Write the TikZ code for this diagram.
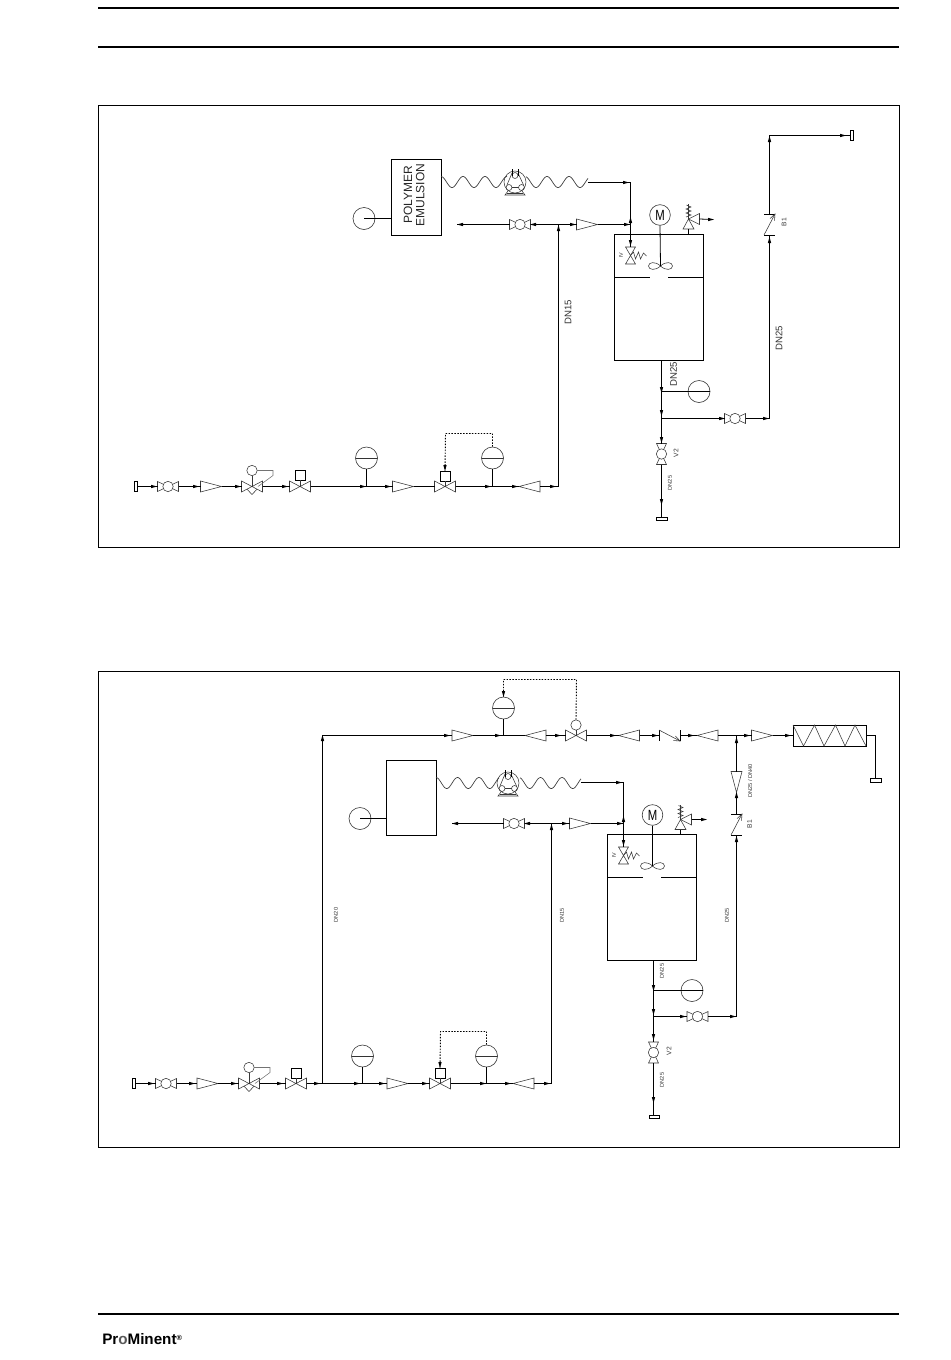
\documentclass[tikz,border=0pt]{standalone}
\usepackage{fontspec}
\usepackage{graphicx}
\setmainfont{Liberation Sans}
\usetikzlibrary{calc}
\definecolor{symc}{gray}{0.22}
\definecolor{txtc}{gray}{0.2}
\tikzset{
  x=0.75pt,y=-0.75pt,
  pipe/.style={line width=0.72pt,draw=black},
  sym/.style={line width=0.42pt,draw=symc},
  dotl/.style={line width=0.7pt,draw=black,dash pattern=on 1.1pt off 1.1pt},
  gauge/.style={circle,draw=black!80,line width=0.45pt,fill=white,inner sep=0,minimum size=16.5pt,
    path picture={\draw[line width=0.65pt] (path picture bounding box.west) -- (path picture bounding box.east);}},
  gaugeplain/.style={circle,draw=black!80,line width=0.45pt,inner sep=0,minimum size=16.5pt},
  motor/.style={circle,draw=black!80,line width=0.45pt,fill=white,inner sep=0,minimum size=15.5pt,font=\fontsize{8.5pt}{9pt}\selectfont},
  actbox/.style={rectangle,draw=black,line width=0.55pt,fill=white,inner sep=0,minimum size=7.6pt},
  vessel/.style={rectangle,draw=black,line width=0.65pt,inner sep=0},
  lbl/.style={rotate=90,text=txtc,inner sep=0},
  tipm/.pic={\fill[black] (-3,-1.7)--(3,0)--(-3,1.7)--cycle;},
  ballv/.pic={
    \draw[sym] (-10.5,-5)--(-10.5,5)--(10.5,-5)--(10.5,5)--cycle;
    \draw[sym,fill=white] (0,0) circle (5.2);
    \coordinate (-l) at (-10.5,0); \coordinate (-r) at (10.5,0);},
  gatev/.pic={
    \draw[sym] (-10.5,-5.5)--(-10.5,5.5)--(10.5,-5.5)--(10.5,5.5)--cycle;
    \coordinate (-l) at (-10.5,0); \coordinate (-r) at (10.5,0);},
  redu/.pic={
    \draw[sym,fill=white] (-10.5,-5.5)--(-10.5,5.5)--(10.5,0)--cycle;
    \coordinate (-l) at (-10.5,0); \coordinate (-r) at (10.5,0);},
  threeway/.pic={
    \draw[sym] (-10.5,-5.5)--(-10.5,5.5)--(10.5,-5.5)--(10.5,5.5)--cycle;
    \draw[sym] (-5,2.7)--(0,8)--(5,2.7);
    \draw[sym] (0,0)--(0,-11);
    \draw[sym] (0,-16) circle (5.2);
    \draw[sym,draw=black!55] (5.2,-16)--(21,-16)--(21,-11)--(6,0);
    \coordinate (-l) at (-10.5,0); \coordinate (-r) at (10.5,0);},
  checkv/.pic={
    \draw[line width=0.6pt] (-10.5,-5.5)--(-10.5,5.5) (10.5,-5.5)--(10.5,5.5);
    \draw[sym] (-10.5,-5.5)--(10.5,5.5);
    \draw[sym] (6,0.6)--(10.5,5.5)--(4,5);
    \coordinate (-l) at (-10.5,0); \coordinate (-r) at (10.5,0);},
  pump/.pic={
    \draw[sym] (0,0) circle (11);
    \draw[sym] (-6,5.5) circle (3) (6.5,5.5) circle (3) (0,-6.5) circle (3);
    \draw[sym] (-3,-9)--(-8,3) (3,-9)--(8.5,3) (-3,5.5)--(3.5,5.5);
    \draw[line width=0.55pt] (-3,-13)--(-3,-6.5) (3,-13)--(3,-6.5);
    \draw[sym] (-7,9)--(-10,13)--(10,13)--(7,9);
    \draw[sym] (-8,11)--(8,11);},
  ivv/.pic={
    \draw[sym] (-5,-8.5)--(5,-8.5)--(-5,8.5)--(5,8.5)--cycle;
    \draw[sym] (0,0)--(3,-3.5)--(5,3.5)--(8,-3.5)--(10,3.5)--(13,-2.5)--(16,0.5);
    \coordinate (-t) at (0,-8.5);},
  relief/.pic={
    \draw[sym] (0,0)--(-5.5,10)--(5.5,10)--cycle;
    \draw[sym] (0,0)--(11,-5.5)--(11,5.5)--cycle;
    \draw[sym] (0,0)--(0,-15);
    \draw[sym] (-2.5,-2)--(2.5,-4)--(-2.5,-6)--(2.5,-8)--(-2.5,-10)--(2.5,-12)--(-2,-14);
    \coordinate (-b) at (0,10); \coordinate (-o) at (11,0);},
  stir/.pic={
    \draw[sym] (0,0) .. controls (-5,-5) and (-12,-4) .. (-12,0) .. controls (-12,4) and (-5,5) .. (0,0)
      .. controls (5,-5) and (12,-4) .. (12,0) .. controls (12,4) and (5,5) .. (0,0);},
  capm/.pic={\draw[line width=0.6pt,fill=white] (-1.5,-5.2) rectangle (1.5,5.2);},
}
\newcommand{\tipat}[3]{\pic[rotate=#3] at (#1,#2) {tipm};}
\begin{document}
\begin{tikzpicture}
\useasboundingbox (0,0) rectangle (950,1360);
% page rules
\draw[line width=1.5pt] (98,8)--(899,8);
\draw[line width=1.5pt] (98,46.5)--(899,46.5);
\draw[line width=1.5pt] (98,1313.5)--(899,1313.5);
\node[anchor=west,inner sep=0,font=\fontsize{11.4pt}{12pt}\selectfont\bfseries] (logo) at (102,1339.5) {Pr\textcolor{black!65}{o}Minent\raisebox{3.4pt}{\fontsize{5.5pt}{6pt}\selectfont ®}};
% frames
\node[rectangle,draw=black,line width=0.7pt,minimum width=600.75pt,minimum height=331.5pt,inner sep=0] (frameA) at (498.5,326) {};
\node[rectangle,draw=black,line width=0.7pt,minimum width=600.75pt,minimum height=357pt,inner sep=0] (frameB) at (498.5,909) {};

% ================= DIAGRAM A =================
\pic (aCap) at (135.5,486.5) {capm};
\pic (aBall) at (168,486.5) {ballv};
\pic (aR1) at (211,486.5) {redu};
\pic (aTw) at (252,486.5) {threeway};
\pic (aV1) at (300,486.5) {gatev};
\node[actbox] (aBx1) at (300,475) {};
\draw[sym] (aBx1.south)--(300,486.5);
\node[gauge] (aG1) at (366.5,458) {};
\coordinate (aJ1) at (366.5,486.5);
\pic (aR2) at (403,486.5) {redu};
\pic (aV2) at (445,486.5) {gatev};
\node[actbox] (aBx2) at (445,476) {};
\draw[sym] (aBx2.south)--(445,486.5);
\node[gauge] (aG2) at (492.5,458) {};
\coordinate (aJ2) at (492.5,486.5);
\pic[rotate=180] (aR3) at (529.5,486.5) {redu};
\coordinate (aC1) at (558.5,486.5);
\coordinate (aJ3) at (558.5,224.5);
\draw[pipe] (137,486.5)--(aBall-l) (aBall-r)--(aR1-l) (aR1-r)--(aTw-l) (aTw-r)--(aV1-l) (aV1-r)--(aJ1)--(aR2-l) (aR2-r)--(aV2-l) (aV2-r)--(aJ2)--(aR3-r) (aR3-l)--(aC1)--(aJ3);
\draw[pipe] (aG1.south)--(aJ1) (aG2.south)--(aJ2);
\draw[dotl] (aG2.north)--(492.5,433.5)--(445.5,433.5)--(aBx2.north);
\tipat{154}{486.5}{0}\tipat{196}{486.5}{0}\tipat{238}{486.5}{0}\tipat{285}{486.5}{0}\tipat{363}{486.5}{0}\tipat{388}{486.5}{0}\tipat{488}{486.5}{0}\tipat{515}{486.5}{0}\tipat{553}{486.5}{0}
\tipat{445}{468}{270}
% top line A
\node[vessel,minimum width=37.5pt,minimum height=57pt] (aBox) at (416,197) {};
\node[rotate=90,align=center,font=\fontsize{9pt}{9.2pt}\selectfont,text=black!85,inner sep=0] (aBoxT) at (414,195) {POLYMER\\EMULSION};
\node[gaugeplain] (aG3) at (364,218.5) {};
\draw[pipe] (aG3.center)--(aBox.west|-aG3);
\draw[line width=0.5pt,draw=symc] plot[domain=0:66,samples=90] ({441+\x},{182-5.5*cos(\x/22*360)});
\draw[line width=0.5pt,draw=symc] plot[domain=0:62,samples=90] ({526+\x},{182-5.5*cos((\x+1)/22*360)});
\pic (aPump) at (515,182) {pump};
\coordinate (aW1) at (588,182.5);
\coordinate (aK1) at (630.5,182.5);
\pic (aIv) at (630.5,255.5) {ivv};
\draw[pipe] (aW1)--(aK1)--(aIv-t);
\coordinate (aLe) at (457,224.5);
\pic (aBall2) at (520,224.5) {ballv};
\pic (aR4) at (587,224.5) {redu};
\coordinate (aK2) at (630.5,224.5);
\draw[pipe] (aLe)--(aBall2-l) (aBall2-r)--(aJ3)--(aR4-l) (aR4-r)--(aK2);
\tipat{460}{224.5}{180}\tipat{533}{224.5}{180}\tipat{573}{224.5}{0}\tipat{627}{224.5}{0}\tipat{626}{182.5}{0}\tipat{558.5}{228}{90}\tipat{630.5}{220}{90}\tipat{630.5}{243}{270}
\node[vessel,minimum width=66.75pt,minimum height=94.5pt] (aTank) at (658.5,297) {};
\coordinate (aT1) at (614,277); \coordinate (aT2) at (650,277); \coordinate (aT3) at (668,277); \coordinate (aT4) at (703,277);
\draw[pipe,line width=0.65pt] (aT1)--(aT2) (aT3)--(aT4);
\node[motor] (aM) at (660,215) {\scalebox{1}[1.3]{M}};
\pic (aSt) at (660.5,266) {stir};
\draw[pipe,line width=0.6pt] (aM.south)--(660.5,266);
\pic (aRel) at (688.5,219) {relief};
\coordinate (aRo) at (713,219.5);
\draw[pipe,line width=0.6pt] (aRel-b)--(688.5,234.5);
\draw[pipe,line width=0.6pt] (aRel-o)--(aRo);
\tipat{711}{219.5}{0}
\node[lbl,font=\fontsize{4pt}{5pt}\selectfont] (aIvT) at (621,255) {IV};
% bottom A
\coordinate (aB0) at (661.5,360);
\node[gaugeplain] (aG4) at (699,391.5) {};
\coordinate (aJ4) at (661.5,391.5);
\coordinate (aJ5) at (661.5,418.5);
\pic[rotate=270] (aV) at (661.5,454) {ballv};
\coordinate (aE) at (661.5,518);
\draw[pipe] (aB0)--(aJ4)--(aJ5)--(aV-l) (aV-r)--(aE);
\draw[pipe] (aJ4)--(aG4.east);
\draw[line width=0.55pt] (656.5,517)rectangle(667.5,520.5);
\tipat{661.5}{390}{270}\tipat{661.5}{413}{270}\tipat{661.5}{440}{270}\tipat{661.5}{502}{270}
\pic (aBall3) at (735,418.5) {ballv};
\coordinate (aK3) at (769.5,418.5);
\pic[rotate=90] (aCk) at (769.5,224.5) {checkv};
\coordinate (aK4) at (769.5,135.5);
\coordinate (aEnd) at (850,135.5);
\draw[pipe] (aJ5)--(aBall3-l) (aBall3-r)--(aK3)--(aCk-l) (aCk-r)--(aK4)--(aEnd);
\pic (aCap2) at (851.5,135.5) {capm};
\tipat{722}{418.5}{0}\tipat{766}{418.5}{0}\tipat{769.5}{240}{90}\tipat{769.5}{139}{90}\tipat{843}{135.5}{0}
\node[lbl,font=\fontsize{7.2pt}{8pt}\selectfont] (aL1) at (568,312) {DN15};
\node[lbl,font=\fontsize{7.2pt}{8pt}\selectfont] (aL2) at (779,338) {DN25};
\node[lbl,font=\fontsize{7.2pt}{8pt}\selectfont] (aL3) at (673.5,374) {DN25};
\node[lbl,font=\fontsize{5pt}{6pt}\selectfont] (aL4) at (784,222) {B1};
\node[lbl,font=\fontsize{5pt}{6pt}\selectfont] (aL5) at (676,453) {V2};
\node[lbl,font=\fontsize{4.2pt}{5pt}\selectfont] (aL6) at (670,483) {DN25};

% ================= DIAGRAM B =================
\pic (bCap) at (133.5,1083.5) {capm};
\pic (bBall) at (166,1083.5) {ballv};
\pic (bR1) at (207.5,1083.5) {redu};
\pic (bTw) at (249,1083.5) {threeway};
\pic (bV1) at (296,1083.5) {gatev};
\node[actbox] (bBx1) at (296,1073) {};
\draw[sym] (bBx1.south)--(296,1083.5);
\coordinate (bJ0) at (322.5,1083.5);
\node[gauge] (bG1) at (362.5,1056) {};
\coordinate (bJ1) at (362.5,1083.5);
\pic (bR2) at (397.5,1083.5) {redu};
\pic (bV2) at (440,1083.5) {gatev};
\node[actbox] (bBx2) at (440,1073) {};
\draw[sym] (bBx2.south)--(440,1083.5);
\node[gauge] (bG2) at (486.5,1056) {};
\coordinate (bJ2) at (486.5,1083.5);
\pic[rotate=180] (bR3) at (523.5,1083.5) {redu};
\coordinate (bC1) at (551.5,1083.5);
\coordinate (bJ3) at (551.5,823.5);
\draw[pipe] (135,1083.5)--(bBall-l) (bBall-r)--(bR1-l) (bR1-r)--(bTw-l) (bTw-r)--(bV1-l) (bV1-r)--(bJ0)--(bJ1)--(bR2-l) (bR2-r)--(bV2-l) (bV2-r)--(bJ2)--(bR3-r) (bR3-l)--(bC1)--(bJ3);
\draw[pipe] (bG1.south)--(bJ1) (bG2.south)--(bJ2);
\draw[dotl] (bG2.north)--(486.5,1031.5)--(440.5,1031.5)--(bBx2.north);
\tipat{151}{1083.5}{0}\tipat{192}{1083.5}{0}\tipat{234}{1083.5}{0}\tipat{280}{1083.5}{0}\tipat{317}{1083.5}{0}\tipat{357}{1083.5}{0}\tipat{382}{1083.5}{0}\tipat{425}{1083.5}{0}\tipat{483}{1083.5}{0}\tipat{508}{1083.5}{0}\tipat{547}{1083.5}{0}
\tipat{440}{1065}{270}
% upper line B
\coordinate (bK0) at (322.5,735.5);
\pic (bR4) at (462.5,735.5) {redu};
\node[gauge] (bG3) at (503.5,708) {};
\coordinate (bJ4) at (503.5,735.5);
\pic[rotate=180] (bR5) at (535.5,735.5) {redu};
\pic (bV3) at (576,735.5) {gatev};
\node[circle,draw=black!80,line width=0.42pt,fill=white,inner sep=0,minimum size=7.8pt] (bOp) at (576,725) {};
\draw[sym] (bOp.south)--(576,735.5);
\pic[rotate=180] (bR6) at (629,735.5) {redu};
\pic (bCk) at (669.5,735.5) {checkv};
\pic[rotate=180] (bR7) at (707.5,735.5) {redu};
\coordinate (bJ5) at (736.5,735.5);
\pic (bR8) at (762,735.5) {redu};
\node[rectangle,draw=black,line width=0.6pt,minimum width=54.75pt,minimum height=15.75pt,inner sep=0] (bCoil) at (829.5,735.5) {};
\draw[sym] (793,725)--(803.5,746)--(814.5,725)--(824,746)--(835.5,725)--(845,746)--(855,725)--(866,746);
\coordinate (bK1) at (875.5,735.5);
\coordinate (bE1) at (875.5,778);
\draw[pipe] (bJ0)--(bK0)--(bR4-l) (bR4-r)--(bJ4)--(bR5-r) (bR5-l)--(bV3-l) (bV3-r)--(bR6-r) (bR6-l)--(bCk-l) (bCk-r)--(bR7-r) (bR7-l)--(bJ5)--(bR8-l) (bR8-r)--(bCoil.west);
\draw[pipe] (bG3.south)--(bJ4);
\draw[pipe,line width=0.6pt] (bCoil.east)--(bK1)--(bE1);
\draw[line width=0.55pt] (870,778) rectangle (881,782);
\draw[dotl] (bOp.north)--(576.5,679.5)--(503.5,679.5)--(bG3.north);
\tipat{447}{735.5}{0}\tipat{498}{735.5}{0}\tipat{558}{735.5}{0}\tipat{613}{735.5}{0}\tipat{655}{735.5}{0}\tipat{691}{735.5}{0}\tipat{747}{735.5}{0}\tipat{788}{735.5}{0}
\tipat{322.5}{738}{90}\tipat{736.5}{740}{90}\tipat{503.5}{694}{270}
% box, hose B
\node[vessel,minimum width=37.5pt,minimum height=56.25pt] (bBox) at (411,797.5) {};
\node[gaugeplain] (bG4) at (360,818.5) {};
\draw[pipe] (bG4.center)--(bBox.west|-bG4);
\draw[line width=0.5pt,draw=symc] plot[domain=0:63,samples=90] ({436+\x},{783-5.5*cos(\x/21.5*360)});
\draw[line width=0.5pt,draw=symc] plot[domain=0:61,samples=90] ({520+\x},{783-5.5*cos((\x+1)/21.5*360)});
\pic (bPump) at (508,783) {pump};
\coordinate (bW1) at (581,782.5);
\coordinate (bK2) at (623.5,782.5);
\pic (bIv) at (623.5,855.5) {ivv};
\draw[pipe] (bW1)--(bK2)--(bIv-t);
\coordinate (bLe) at (452,823.5);
\pic (bBall2) at (514,823.5) {ballv};
\pic (bR9) at (580,823.5) {redu};
\coordinate (bK3) at (623.5,823.5);
\draw[pipe] (bLe)--(bBall2-l) (bBall2-r)--(bJ3)--(bR9-l) (bR9-r)--(bK3);
\tipat{455}{823.5}{180}\tipat{527}{823.5}{180}\tipat{565}{823.5}{0}\tipat{620}{823.5}{0}\tipat{619}{782.5}{0}\tipat{551.5}{827}{90}\tipat{623.5}{819}{90}\tipat{623.5}{843}{270}
\node[vessel,minimum width=66.75pt,minimum height=94.5pt] (bTank) at (652,897) {};
\coordinate (bT1) at (607.5,877); \coordinate (bT2) at (643,877); \coordinate (bT3) at (661,877); \coordinate (bT4) at (696.5,877);
\draw[pipe,line width=0.65pt] (bT1)--(bT2) (bT3)--(bT4);
\node[motor] (bM) at (652.5,815) {\scalebox{1}[1.3]{M}};
\pic (bSt) at (652.5,866) {stir};
\draw[pipe,line width=0.6pt] (bM.south)--(652.5,866);
\pic (bRel) at (680.5,819.5) {relief};
\coordinate (bRo) at (706,819.5);
\draw[pipe,line width=0.6pt] (bRel-b)--(680.5,834);
\draw[pipe,line width=0.6pt] (bRel-o)--(bRo);
\tipat{704}{819.5}{0}
\node[lbl,font=\fontsize{4pt}{5pt}\selectfont] (bIvT) at (614,855) {IV};
% bottom B
\coordinate (bB0) at (653.5,960);
\node[gaugeplain] (bG5) at (692,990.5) {};
\coordinate (bJ6) at (653.5,990.5);
\coordinate (bJ7) at (653.5,1016.5);
\pic[rotate=270] (bV) at (653.5,1052.5) {ballv};
\coordinate (bE) at (653.5,1115);
\draw[pipe] (bB0)--(bJ6)--(bJ7)--(bV-l) (bV-r)--(bE);
\draw[pipe] (bJ6)--(bG5.east);
\draw[line width=0.55pt] (649,1115)rectangle(659.5,1118.5);
\tipat{653.5}{988}{270}\tipat{653.5}{1012}{270}\tipat{653.5}{1037}{270}\tipat{653.5}{1100}{270}
\pic (bBall3) at (697.5,1016.5) {ballv};
\coordinate (bK4) at (736.5,1016.5);
\pic[rotate=90] (bCk2) at (736.5,824.5) {checkv};
\pic[rotate=270] (bR10) at (736.5,782) {redu};
\draw[pipe] (bJ7)--(bBall3-l) (bBall3-r)--(bK4)--(bCk2-l) (bCk2-r)--(bR10-r) (bR10-l)--(bJ5);
\tipat{683}{1016.5}{0}\tipat{733}{1016.5}{0}\tipat{736.5}{839}{90}\tipat{736.5}{795}{90}
\node[lbl,font=\fontsize{4.2pt}{5pt}\selectfont] (bL1) at (562,915.5) {DN15};
\node[lbl,font=\fontsize{4.2pt}{5pt}\selectfont] (bL2) at (727,915.5) {DN25};
\node[lbl,font=\fontsize{4.2pt}{5pt}\selectfont] (bL3) at (336,915) {DN20};
\node[lbl,font=\fontsize{4.2pt}{5pt}\selectfont] (bL4) at (662,971) {DN25};
\node[lbl,font=\fontsize{4.2pt}{5pt}\selectfont] (bL5) at (662,1080) {DN25};
\node[lbl,font=\fontsize{5pt}{6pt}\selectfont] (bL6) at (669,1051) {V2};
\node[lbl,font=\fontsize{5pt}{6pt}\selectfont] (bL7) at (749.5,824) {B1};
\node[lbl,font=\fontsize{4.2pt}{5pt}\selectfont] (bL8) at (750,781) {DN25 / DN40};
\end{tikzpicture}
\end{document}
